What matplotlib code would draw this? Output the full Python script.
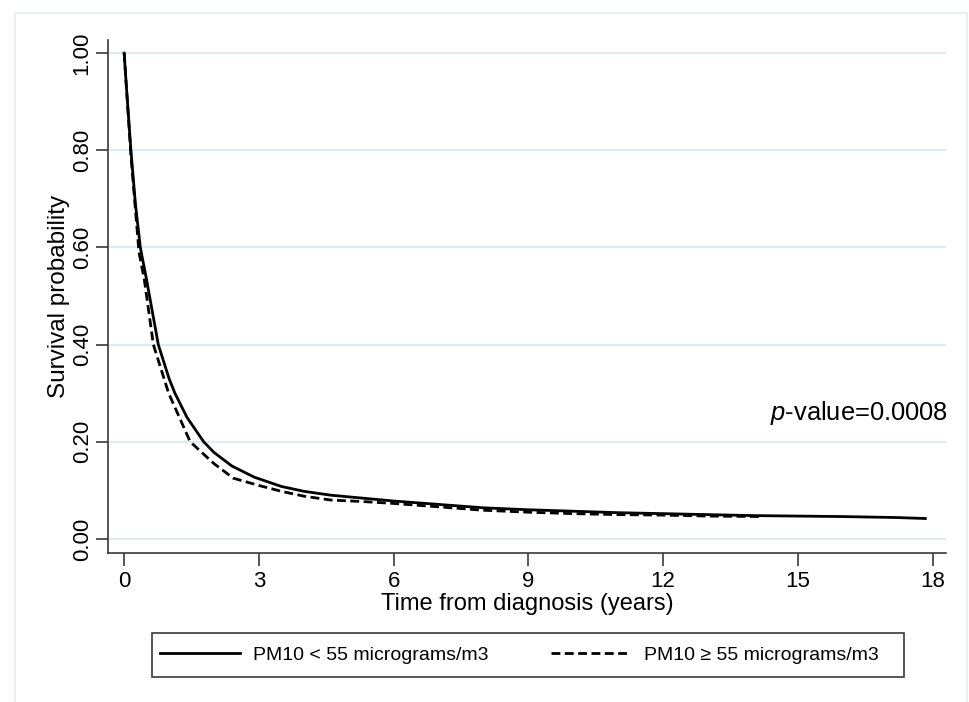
import matplotlib
matplotlib.use("Agg")
import matplotlib.pyplot as plt
from matplotlib.patches import Rectangle

plt.rcParams['font.family'] = ['Liberation Sans', 'DejaVu Sans']
plt.rcParams['mathtext.fontset'] = 'custom'
plt.rcParams['mathtext.it'] = 'Liberation Sans:italic'
plt.rcParams['mathtext.rm'] = 'Liberation Sans'

# Solid: PM10 < 55
t_low = [0, 0.05, 0.15, 0.25, 0.36, 0.50, 0.76, 1.0, 1.13, 1.4, 1.77, 2.0, 2.4, 2.9,
         3.5, 4.0, 4.6, 5.3, 6, 7, 8, 9, 10, 11, 12, 13, 14, 15, 16, 17.2, 17.84]
s_low = [1.0, 0.93, 0.80, 0.69, 0.60, 0.533, 0.40, 0.33, 0.30, 0.25, 0.20, 0.178, 0.150, 0.127,
         0.108, 0.098, 0.090, 0.084, 0.078, 0.071, 0.064, 0.060, 0.057, 0.054, 0.052, 0.050,
         0.048, 0.047, 0.046, 0.044, 0.042]
# Dashed: PM10 >= 55
t_high = [0, 0.05, 0.15, 0.33, 0.45, 0.65, 0.99, 1.47, 2.0, 2.43, 3.0, 3.5, 4.0, 4.6, 5.3,
          6, 7, 8, 9, 10, 11, 12, 13, 14.2]
s_high = [1.0, 0.93, 0.79, 0.59, 0.533, 0.40, 0.30, 0.20, 0.155, 0.125, 0.11, 0.098, 0.088,
          0.080, 0.077, 0.073, 0.066, 0.059, 0.055, 0.052, 0.050, 0.049, 0.047, 0.046]

labels = ["PM10 < 55 micrograms/m3", "PM10 \u2265 55 micrograms/m3"]
xticks = [0, 3, 6, 9, 12, 15, 18]
yticks = [0.0, 0.2, 0.4, 0.6, 0.8, 1.0]

W, H = 970, 702
fig = plt.figure(figsize=(W / 100, H / 100), dpi=100)
ax = fig.add_axes([108 / W, 1 - 553 / H, (946 - 108) / W, (553 - 40) / H])

# outer plot-region frame
fig.patches.append(Rectangle((15 / W, -0.05), (967 - 15) / W, 1.05 - 13 / H,
                             transform=fig.transFigure, fill=False,
                             edgecolor='#e3eff1', lw=1.2))

ax.plot(t_low, s_low, color='black', lw=2.0, label=labels[0])
ax.plot(t_high, s_high, color='black', lw=2.0, dashes=(3.2, 1.6), label=labels[1])

ax.set_xlim(-0.36, 18.3)
ax.set_ylim(-0.029, 1.027)
ax.set_xticks(xticks)
ax.set_xticklabels([str(x) for x in xticks])
ax.set_yticks(yticks)
ax.set_yticklabels([f"{y:.2f}" for y in yticks], rotation=90, va='center')

for s in ['top', 'right']:
    ax.spines[s].set_visible(False)
for s in ['left', 'bottom']:
    ax.spines[s].set_color('#3a3a3a')
    ax.spines[s].set_linewidth(1.2)
ax.tick_params(axis='both', length=9, width=1.2, color='#3a3a3a', labelsize=16)
ax.tick_params(axis='x', pad=4)
ax.tick_params(axis='y', pad=2)

ax.yaxis.grid(True, color='#dcebee', lw=1.3)
ax.set_axisbelow(True)

ax.set_xlabel("Time from diagnosis (years)", fontsize=17, labelpad=1)
ax.set_ylabel("Survival probability", fontsize=17.5, labelpad=1)

ax.text(18.35, 0.26, r"$\it{p}$-value=0.0008", fontsize=18.4, ha='right', va='center')

# legend frame
fig.patches.append(Rectangle((152 / W, 1 - 677 / H), (904 - 152) / W, (677 - 633) / H,
                             transform=fig.transFigure, fill=False,
                             edgecolor='#3a3a3a', lw=1.2))
leg = fig.legend(loc='center left', bbox_to_anchor=(160 / W, 1 - 655 / H),
                 ncol=2, frameon=False, fontsize=14, handlelength=4.1,
                 borderpad=0, borderaxespad=0, handletextpad=0.7, columnspacing=3.2)

fig.savefig("out.png", dpi=100)
